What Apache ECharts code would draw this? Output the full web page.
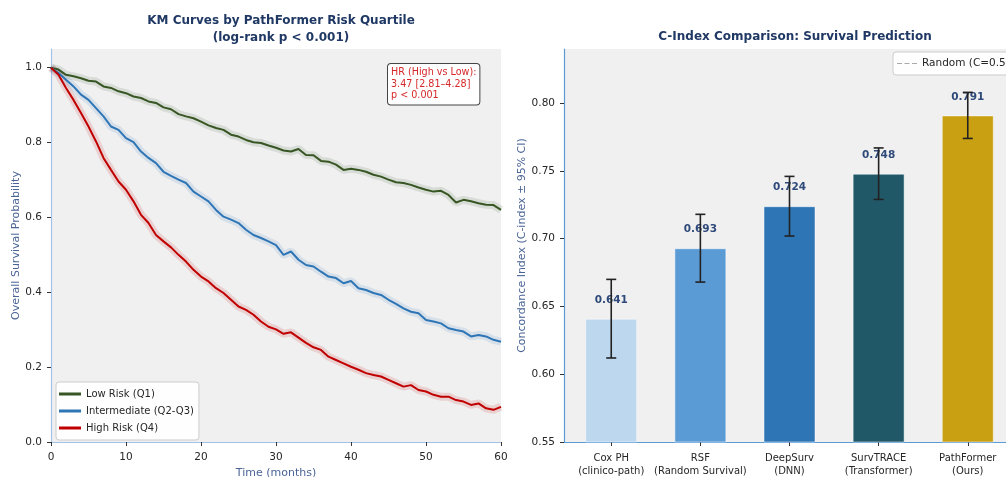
<!DOCTYPE html>
<html>
<head>
<meta charset="utf-8">
<script src="https://cdn.jsdelivr.net/npm/echarts@6/dist/echarts.min.js"></script>
<style>
  html, body { margin: 0; padding: 0; background: #ffffff; }
  #chart { width: 1006px; height: 477px; }
</style>
</head>
<body>
<div id="chart"></div>
<script>
// ---- Kaplan–Meier survival by risk quartile (monthly estimates) ----
const months = [0,1,2,3,4,5,6,7,8,9,10,11,12,13,14,15,16,17,18,19,20,21,22,23,24,25,26,27,28,29,30,
  31,32,33,34,35,36,37,38,39,40,41,42,43,44,45,46,47,48,49,50,51,52,53,54,55,56,57,58,59,60];

const lowRisk = [1.000,0.995,0.981,0.977,0.972,0.965,0.963,0.950,0.946,0.937,0.932,0.923,0.919,0.910,0.906,0.894,
  0.889,0.876,0.870,0.865,0.856,0.846,0.839,0.834,0.821,0.816,0.807,0.801,0.799,0.792,0.786,
  0.779,0.776,0.783,0.767,0.766,0.751,0.749,0.741,0.727,0.730,0.727,0.722,0.714,0.709,0.701,
  0.694,0.692,0.687,0.680,0.674,0.669,0.671,0.660,0.640,0.647,0.643,0.638,0.634,0.633,0.620];

const intermediate = [1.000,0.986,0.968,0.950,0.928,0.914,0.892,0.870,0.843,0.834,0.812,0.801,0.776,0.759,0.745,0.722,
  0.711,0.701,0.692,0.669,0.656,0.643,0.620,0.602,0.594,0.585,0.567,0.553,0.545,0.536,0.526,
  0.500,0.509,0.487,0.473,0.469,0.455,0.442,0.438,0.424,0.430,0.411,0.406,0.398,0.393,0.380,
  0.369,0.357,0.348,0.344,0.326,0.322,0.317,0.304,0.299,0.295,0.282,0.286,0.282,0.273,0.268];

const highRisk = [1.000,0.981,0.946,0.914,0.879,0.843,0.803,0.759,0.727,0.696,0.674,0.643,0.607,0.585,0.553,0.536,
  0.520,0.500,0.482,0.460,0.442,0.429,0.411,0.398,0.380,0.362,0.353,0.340,0.322,0.308,0.301,
  0.289,0.293,0.279,0.265,0.253,0.246,0.228,0.219,0.210,0.201,0.193,0.184,0.179,0.175,0.166,
  0.157,0.148,0.152,0.139,0.135,0.126,0.121,0.121,0.112,0.108,0.099,0.103,0.090,0.086,0.094];

const timeTicks = [0,10,20,30,40,50,60];
const survTicks = [0.0,0.2,0.4,0.6,0.8,1.0];

// ---- Concordance index per model ----
const models = ['Cox PH\n(clinico-path)','RSF\n(Random Survival)','DeepSurv\n(DNN)','SurvTRACE\n(Transformer)','PathFormer\n(Ours)'];
const modelPos = [0,1,2,3,4];
const cIndex = [0.641,0.693,0.724,0.748,0.791];
const ciLow  = [0.612,0.668,0.702,0.729,0.774];
const ciHigh = [0.670,0.718,0.746,0.767,0.808];
const cTicks = [0.55,0.60,0.65,0.70,0.75,0.80];
const randomC = 0.5;

const FONT = 'DejaVu Sans';
const barColors = ['#bdd7ee','#5b9bd5','#2e75b6','#215868','#c9a012'];
const kmColors = { low: '#375623', mid: '#2e75b6', high: '#c00000' };

const pairs = (xs, ys) => xs.map((x, i) => [x, ys[i]]);

function kmBand(name, ys, color) {
  return {
    name: name + ' band', type: 'line', xAxisIndex: 0, yAxisIndex: 0,
    data: pairs(months, ys), symbol: 'none', silent: true, z: 1,
    lineStyle: { color: color, width: 8, opacity: 0.13 }
  };
}
function kmLine(name, ys, color) {
  return {
    name: name, type: 'line', xAxisIndex: 0, yAxisIndex: 0,
    data: pairs(months, ys), symbol: 'none', z: 3,
    lineStyle: { color: color, width: 2 }, itemStyle: { color: color }
  };
}

const chart = echarts.init(document.getElementById('chart'), null, { renderer: 'canvas' });

const axisLabelStyle = { color: '#262626', fontFamily: FONT, fontSize: 10.5 };
const axisNameStyle = { color: '#4a6496', fontFamily: FONT, fontSize: 11 };

chart.setOption({
  animation: false,
  backgroundColor: '#ffffff',
  title: [
    {
      text: 'KM Curves by PathFormer Risk Quartile\n(log-rank p < 0.001)',
      left: 276, top: 7, textAlign: 'center',
      textStyle: { color: '#1f3864', fontFamily: FONT, fontWeight: 'bold', fontSize: 12, lineHeight: 17 }
    },
    {
      text: 'C-Index Comparison: Survival Prediction',
      left: 790, top: 26, textAlign: 'center',
      textStyle: { color: '#1f3864', fontFamily: FONT, fontWeight: 'bold', fontSize: 12 }
    }
  ],
  legend: [
    {
      data: ['Low Risk (Q1)', 'Intermediate (Q2-Q3)', 'High Risk (Q4)'],
      orient: 'vertical', left: 56, top: 382,
      itemWidth: 22, itemHeight: 3, itemGap: 3, icon: 'rect',
      padding: [5, 5, 5, 3],
      backgroundColor: 'rgba(255,255,255,0.9)', borderColor: '#cccccc', borderWidth: 1, borderRadius: 3,
      textStyle: { color: '#262626', fontFamily: FONT, fontSize: 10, lineHeight: 14 }
    },
    {
      data: ['Random (C=0.5)'],
      left: 893, top: 52,
      itemWidth: 20, itemHeight: 1.4, itemGap: 4,
      icon: 'path://M0,0H5V1H0Z M7.5,0H12.5V1H7.5Z M15,0H20V1H15Z',
      padding: [6, 6, 6, 4],
      backgroundColor: 'rgba(255,255,255,0.9)', borderColor: '#cccccc', borderWidth: 1, borderRadius: 3,
      textStyle: { color: '#262626', fontFamily: FONT, fontSize: 10.5 }
    }
  ],
  grid: [
    { left: 51, top: 49, width: 450, height: 393, outerBoundsMode: 'none', containLabel: false,
      backgroundColor: '#f0f0f0', show: true, borderWidth: 0 },
    { left: 564, top: 49, width: 451, height: 393, outerBoundsMode: 'none', containLabel: false,
      backgroundColor: '#f0f0f0', show: true, borderWidth: 0 }
  ],
  xAxis: [
    {
      gridIndex: 0, type: 'value', min: 0, max: 60, interval: 10,
      name: 'Time (months)', nameLocation: 'middle', nameGap: 25, nameTextStyle: axisNameStyle,
      axisLine: { show: true, onZero: false, lineStyle: { color: '#a3c2e6', width: 1.2 } },
      axisTick: { show: true, length: 4, lineStyle: { color: '#333333' }, customValues: timeTicks },
      axisLabel: Object.assign({ margin: 10, customValues: timeTicks }, axisLabelStyle),
      splitLine: { show: false }
    },
    {
      gridIndex: 1, type: 'value', min: -0.53, max: 4.53,
      axisLine: { show: true, onZero: false, lineStyle: { color: '#5b9bd5', width: 1.2 } },
      axisTick: { show: true, length: 4, lineStyle: { color: '#333333' }, customValues: modelPos },
      axisLabel: Object.assign({
        margin: 10, customValues: modelPos, lineHeight: 13,
        formatter: v => models[Math.round(v)]
      }, axisLabelStyle, { fontSize: 10 }),
      splitLine: { show: false }
    }
  ],
  yAxis: [
    {
      gridIndex: 0, type: 'value', min: 0, max: 1.05,
      name: 'Overall Survival Probability', nameLocation: 'middle', nameGap: 28, nameTextStyle: axisNameStyle,
      axisLine: { show: true, onZero: false, lineStyle: { color: '#a3c2e6', width: 1.2 } },
      axisTick: { show: true, length: 4, lineStyle: { color: '#333333' }, customValues: survTicks },
      axisLabel: Object.assign({ margin: 9, customValues: survTicks, formatter: v => v.toFixed(1) }, axisLabelStyle),
      splitLine: { show: false }
    },
    {
      gridIndex: 1, type: 'value', min: 0.55, max: 0.84,
      name: 'Concordance Index (C-index ± 95% CI)', nameLocation: 'middle', nameGap: 34, nameTextStyle: axisNameStyle,
      axisLine: { show: true, onZero: false, lineStyle: { color: '#5b9bd5', width: 1.2 } },
      axisTick: { show: true, length: 4, lineStyle: { color: '#333333' }, customValues: cTicks },
      axisLabel: Object.assign({ margin: 9, customValues: cTicks, formatter: v => v.toFixed(2) }, axisLabelStyle),
      splitLine: { show: false }
    }
  ],
  graphic: [
    {
      type: 'text', left: 387, top: 63, z: 20,
      style: {
        text: 'HR (High vs Low):\n3.47 [2.81–4.28]\np < 0.001',
        fill: '#d62728', font: '9.6px "DejaVu Sans"', lineHeight: 11.5,
        backgroundColor: '#ffffff', borderColor: '#444444', borderWidth: 1, borderRadius: 3,
        padding: [3, 3, 3, 3]
      }
    }
  ],
  series: [
    kmBand('Low Risk (Q1)', lowRisk, kmColors.low),
    kmBand('Intermediate (Q2-Q3)', intermediate, kmColors.mid),
    kmBand('High Risk (Q4)', highRisk, kmColors.high),
    kmLine('Low Risk (Q1)', lowRisk, kmColors.low),
    kmLine('Intermediate (Q2-Q3)', intermediate, kmColors.mid),
    kmLine('High Risk (Q4)', highRisk, kmColors.high),
    {
      name: 'C-index', type: 'bar', xAxisIndex: 1, yAxisIndex: 1, barWidth: 52, z: 2,
      data: modelPos.map((p, i) => ({
        value: [p, cIndex[i]],
        itemStyle: { color: barColors[i], borderColor: 'rgba(255,255,255,0.5)', borderWidth: 1 }
      })),
      label: {
        show: true, position: 'top', distance: 13,
        formatter: p => p.value[1].toFixed(3),
        color: '#2f4a7a', fontFamily: FONT, fontWeight: 'bold', fontSize: 10.5
      }
    },
    {
      name: 'CI', type: 'custom', xAxisIndex: 1, yAxisIndex: 1, z: 10,
      data: modelPos.map((p, i) => [p, ciLow[i], ciHigh[i]]),
      renderItem: (params, api) => {
        const x = api.value(0);
        const lo = api.coord([x, api.value(1)]);
        const hi = api.coord([x, api.value(2)]);
        const cap = 5;
        const st = { stroke: '#222222', lineWidth: 1.6 };
        return {
          type: 'group',
          children: [
            { type: 'line', shape: { x1: lo[0], y1: lo[1], x2: hi[0], y2: hi[1] }, style: st },
            { type: 'line', shape: { x1: lo[0] - cap, y1: lo[1], x2: lo[0] + cap, y2: lo[1] }, style: st },
            { type: 'line', shape: { x1: hi[0] - cap, y1: hi[1], x2: hi[0] + cap, y2: hi[1] }, style: st }
          ]
        };
      }
    },
    {
      name: 'Random (C=0.5)', type: 'line', xAxisIndex: 1, yAxisIndex: 1,
      data: modelPos.map(p => [p, randomC]), symbol: 'none', clip: true,
      lineStyle: { color: '#aaaaaa', width: 1.2, type: 'dashed' }, itemStyle: { color: '#aaaaaa' }
    }
  ]
});
</script>
</body>
</html>
